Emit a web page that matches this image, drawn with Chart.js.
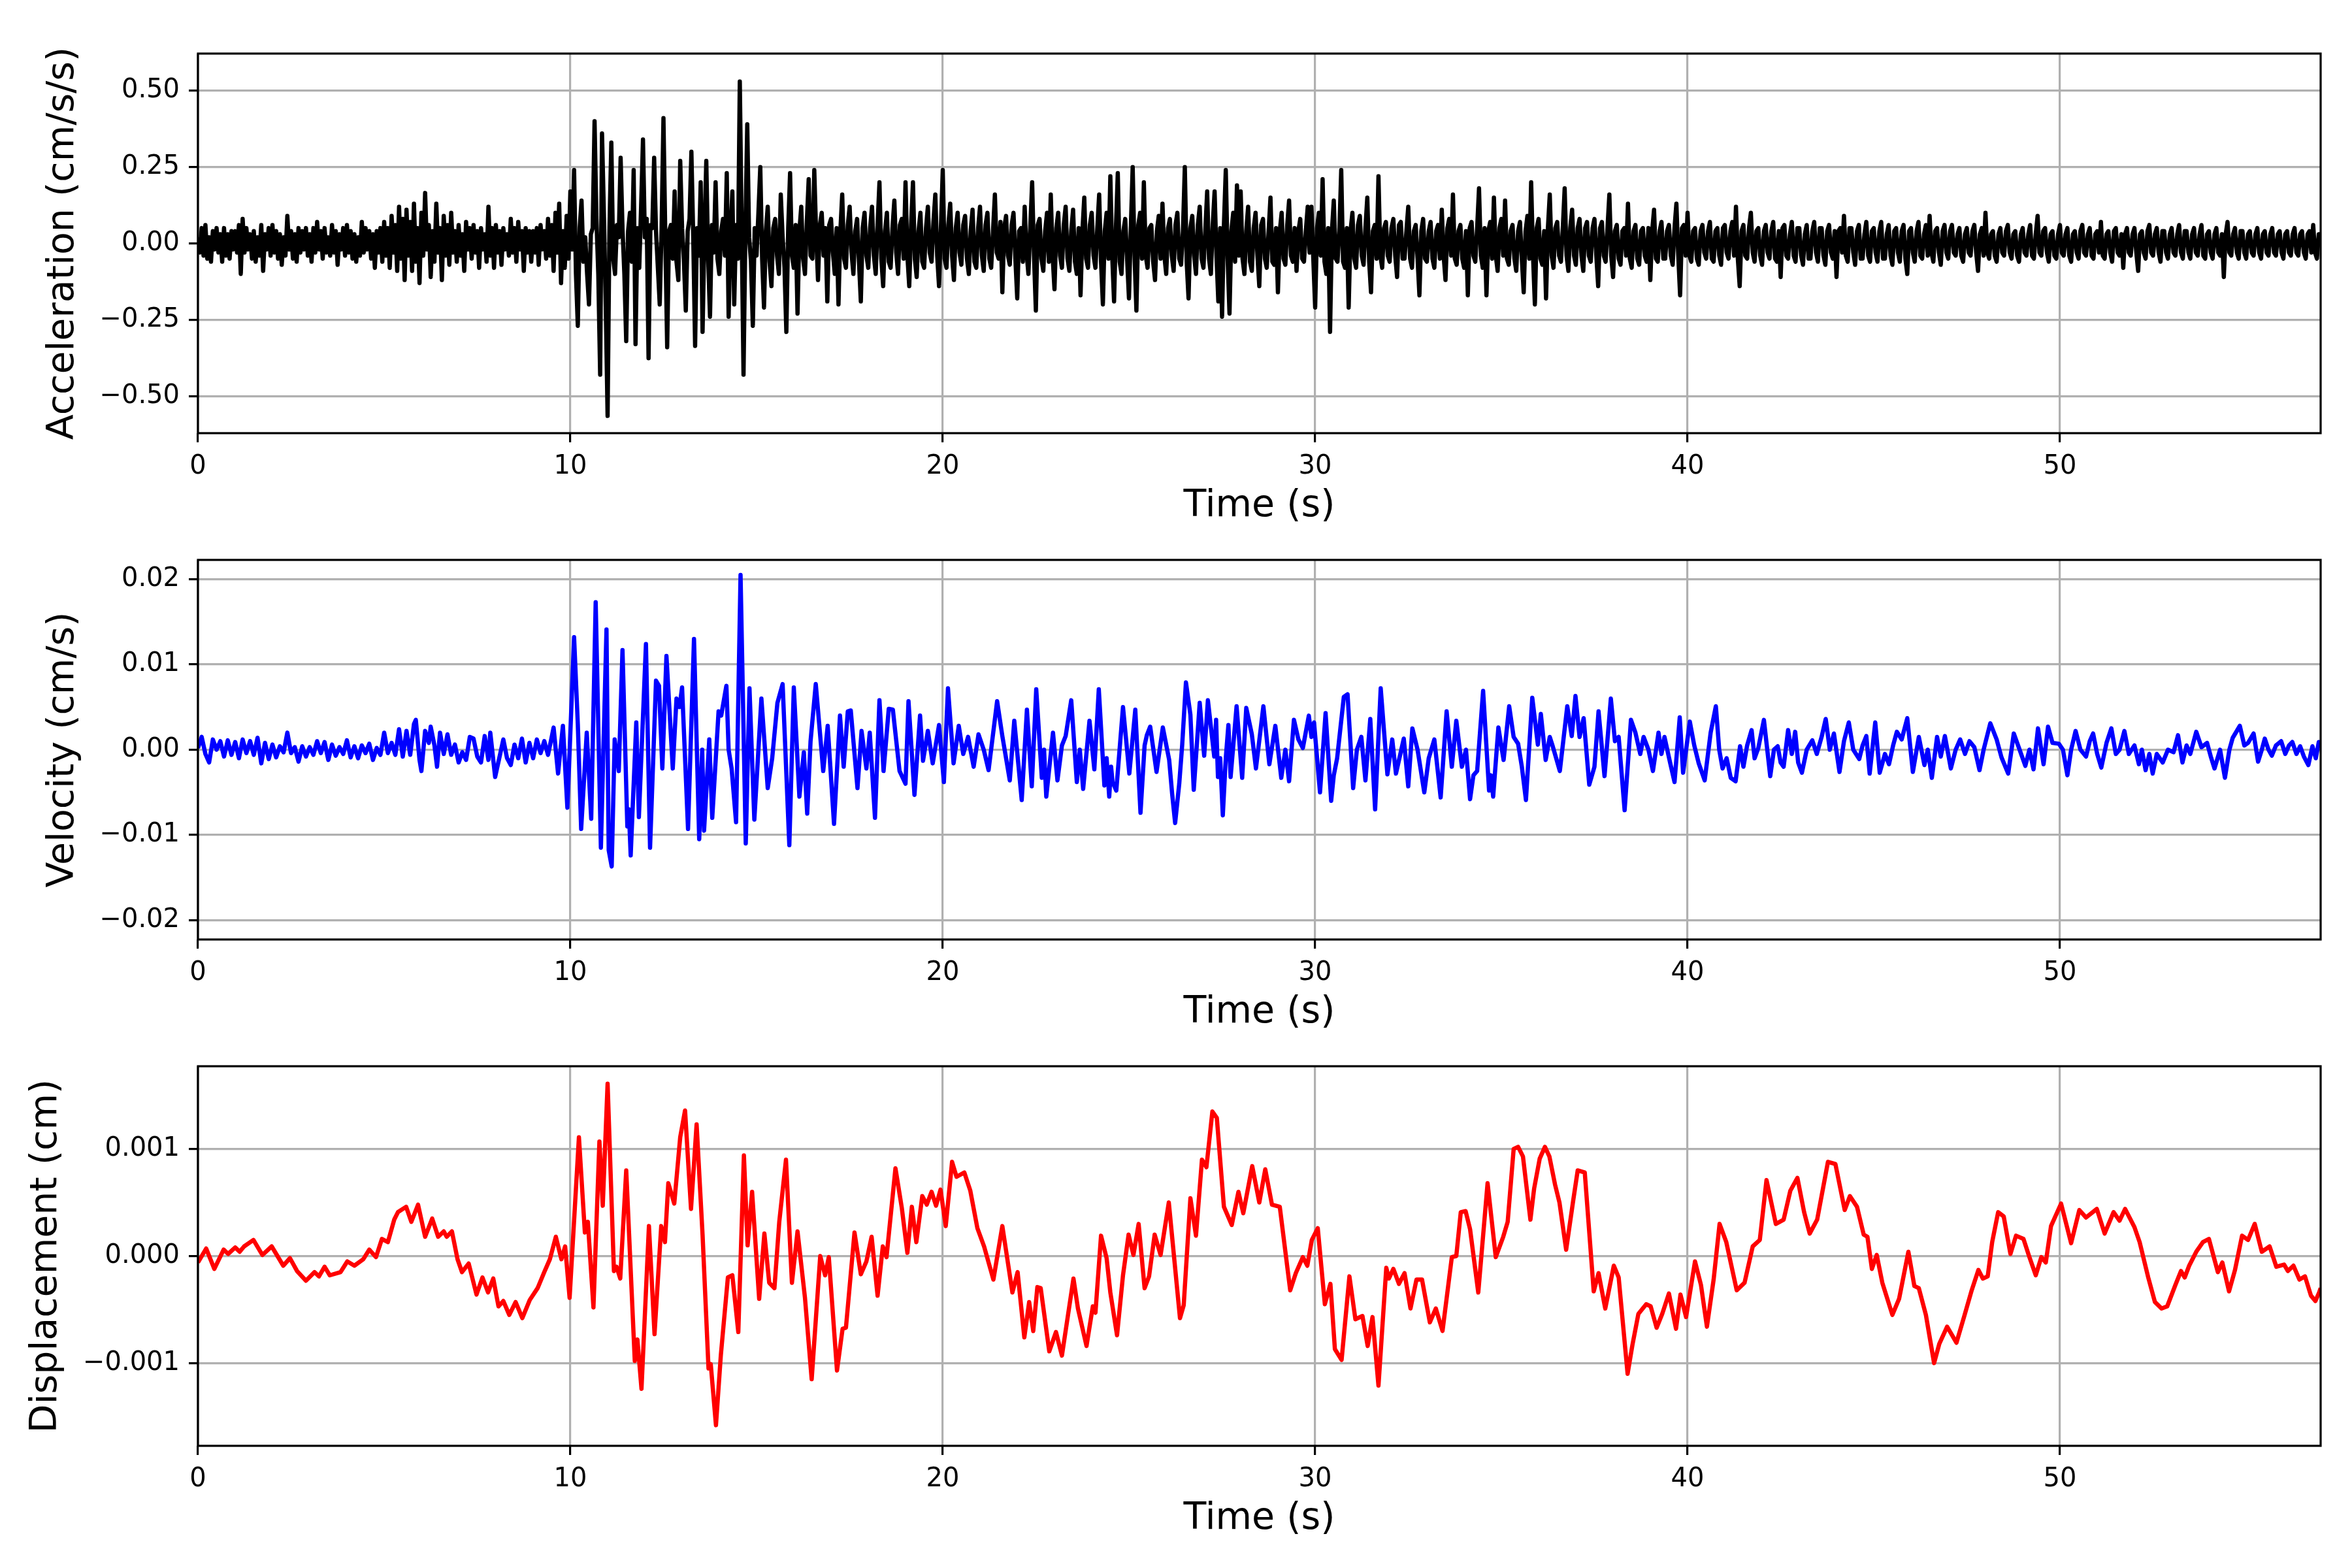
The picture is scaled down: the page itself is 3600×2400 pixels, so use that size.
<!DOCTYPE html>
<html>
<head>
<meta charset="utf-8">
<title>Acceleration, velocity and displacement</title>
<script src="https://cdn.jsdelivr.net/npm/chart.js@4.4.1/dist/chart.umd.min.js"></script>
<style>
    html, body { margin: 0; padding: 0; background: #fff; }
    #page { position: relative; width: 3600px; height: 2400px; overflow: hidden; }
    .panel { position: absolute; left: 0; width: 3600px; height: 900px; }
</style>
</head>
<body>
<div id="page">
    <div class="panel" style="top:0px"><canvas id="accChart" width="3600" height="900"></canvas></div>
    <div class="panel" style="top:775px"><canvas id="velChart" width="3600" height="900"></canvas></div>
    <div class="panel" style="top:1550px"><canvas id="dispChart" width="3600" height="900"></canvas></div>
</div>
<script>
// axes
const timeTicks = [0, 10, 20, 30, 40, 50];
const timeMax = 57.0;
const accelTicks = [-0.5, -0.25, 0, 0.25, 0.5];
const velTicks = [-0.02, -0.01, 0, 0.01, 0.02];
const dispTicks = [-0.001, 0, 0.001];

// acceleration (cm/s/s), one value every 0.05 s from t = 0 (one line per second)
const accelStep = 0.05;
const accelValues = [
    0.02,-0.03,0.05,-0.04,0.06,-0.05,0.02,-0.06,0.04,-0.02,0.05,-0.03,0.03,-0.06,0.05,-0.04,0.03,-0.05,0.04,-0.02,
    0.04,-0.03,0.06,-0.10,0.08,-0.03,0.05,-0.02,0.03,-0.05,0.04,-0.06,0.02,-0.04,0.06,-0.09,0.03,-0.02,0.05,-0.04,
    0.06,-0.03,0.04,-0.05,0.03,-0.07,0.02,-0.04,0.09,-0.02,0.04,-0.05,0.03,-0.06,0.05,-0.03,0.04,-0.02,0.05,-0.04,
    0.03,-0.06,0.05,-0.03,0.07,-0.02,0.04,-0.05,0.05,-0.03,0.02,-0.04,0.06,-0.03,0.04,-0.07,0.03,-0.02,0.05,-0.04,
    0.06,-0.03,0.04,-0.05,0.03,-0.06,0.02,-0.04,0.07,-0.03,0.05,-0.02,0.04,-0.05,0.03,-0.08,0.04,-0.03,0.05,-0.06,
    0.07,-0.04,0.05,-0.08,0.09,-0.03,0.06,-0.09,0.12,-0.05,0.08,-0.12,0.11,-0.04,0.07,-0.09,0.13,-0.06,0.05,-0.13,
    0.10,-0.04,0.165,-0.02,0.06,-0.11,0.04,-0.06,0.13,-0.03,0.05,-0.12,0.09,-0.04,0.06,-0.07,0.10,-0.03,0.04,-0.06,
    0.06,-0.04,0.03,-0.09,0.07,-0.02,0.05,-0.05,0.06,-0.03,0.04,-0.08,0.05,-0.02,0.03,-0.06,0.12,-0.04,0.05,-0.08,
    0.06,-0.03,0.04,-0.07,0.05,-0.02,0.03,-0.04,0.08,-0.03,0.05,-0.06,0.07,-0.02,0.04,-0.09,0.05,-0.03,0.04,-0.06,
    0.04,-0.03,0.05,-0.07,0.06,-0.02,0.04,-0.05,0.08,-0.04,0.06,-0.09,0.10,-0.03,0.13,-0.13,0.04,-0.08,0.09,-0.05,
    0.17,-0.02,0.24,-0.10,-0.27,0.05,0.14,-0.06,0.02,-0.10,-0.20,0.03,0.05,0.40,0.08,-0.10,-0.43,0.36,0.10,-0.20,
    -0.565,0.05,0.33,-0.05,-0.10,0.06,0.02,0.28,0.05,-0.10,-0.32,0.04,0.10,-0.06,0.24,-0.33,0.05,-0.08,0.12,0.34,
    0.02,0.08,-0.376,0.06,0.05,0.28,0.04,-0.08,-0.20,0.05,0.41,0.02,-0.34,0.04,0.06,-0.05,0.17,-0.06,-0.12,0.27,
    0.05,-0.06,-0.22,0.04,0.08,0.30,0.02,-0.336,0.05,-0.04,0.20,-0.29,0.03,0.27,-0.05,-0.24,0.06,-0.03,0.20,-0.05,
    -0.10,0.04,0.08,-0.04,0.23,-0.24,0.03,0.17,-0.20,0.06,-0.05,0.53,0.05,-0.43,0.04,0.39,0.02,-0.06,-0.27,0.05,
    -0.04,0.10,0.25,-0.05,-0.21,0.04,0.12,-0.06,-0.14,0.05,0.08,-0.04,-0.10,0.16,0.02,-0.08,-0.29,0.05,0.23,-0.04,
    -0.08,0.06,-0.23,0.04,0.12,-0.05,-0.10,0.07,0.21,-0.04,-0.05,0.24,0.03,-0.12,0.06,0.10,-0.04,0.05,-0.19,0.06,
    0.08,-0.03,-0.10,0.05,-0.20,0.04,0.16,-0.05,-0.08,0.06,0.12,-0.03,-0.10,0.04,0.08,-0.06,-0.19,0.05,0.10,-0.04,
    -0.08,0.05,0.12,-0.04,-0.10,0.06,0.20,-0.05,-0.14,0.04,0.10,-0.06,-0.08,0.05,0.14,-0.03,-0.10,0.06,0.08,-0.05,
    0.20,-0.04,-0.14,0.06,0.20,-0.05,-0.11,0.04,0.10,-0.06,-0.08,0.05,0.12,-0.03,-0.06,0.07,0.16,-0.04,-0.14,0.05,
    0.24,-0.05,-0.08,0.06,0.13,-0.04,-0.12,0.05,0.10,-0.03,-0.07,0.06,0.09,-0.05,-0.10,0.04,0.11,-0.06,-0.08,0.05,
    0.12,-0.04,-0.09,0.06,0.10,-0.05,-0.08,0.04,0.16,-0.03,-0.05,0.07,-0.16,0.05,0.09,-0.04,-0.07,0.06,0.10,-0.05,
    -0.18,0.04,0.05,-0.06,0.12,-0.03,-0.10,0.05,0.20,-0.04,-0.22,0.06,0.08,-0.05,-0.09,0.04,0.10,-0.06,0.16,-0.04,
    -0.15,0.05,0.10,-0.04,-0.08,0.06,0.12,-0.05,-0.09,0.04,0.11,-0.06,-0.10,0.05,-0.17,0.04,0.15,-0.05,-0.08,0.06,
    0.10,-0.04,-0.08,0.05,0.16,-0.06,-0.20,0.04,0.10,-0.05,0.22,-0.04,-0.19,0.05,0.23,-0.06,-0.10,0.04,0.08,-0.05,
    -0.18,0.05,0.25,-0.04,-0.22,0.06,0.10,-0.05,0.20,-0.04,-0.08,0.05,0.06,-0.06,-0.12,0.04,0.09,-0.05,0.13,-0.04,
    -0.10,0.05,0.08,-0.04,-0.09,0.06,0.10,-0.05,-0.07,0.04,0.25,-0.06,-0.18,0.05,0.09,-0.04,-0.10,0.06,0.12,-0.05,
    -0.08,0.04,0.17,-0.05,-0.10,0.06,0.17,-0.04,-0.19,0.05,-0.24,0.06,0.24,-0.05,-0.23,0.04,0.10,-0.06,0.19,-0.04,
    0.17,-0.05,-0.10,0.04,0.12,-0.06,-0.09,0.05,0.10,-0.04,-0.14,0.06,0.08,-0.05,-0.08,0.04,0.15,-0.06,-0.07,0.05,
    -0.16,0.04,0.10,-0.05,-0.07,0.06,0.14,-0.04,-0.06,0.05,-0.09,0.04,0.08,-0.05,-0.06,0.04,0.12,-0.03,0.12,-0.05,
    -0.21,0.05,0.10,-0.04,0.21,-0.06,-0.10,0.05,-0.29,0.04,0.14,-0.05,-0.06,0.04,0.24,-0.06,-0.08,0.05,-0.21,0.04,
    0.10,-0.05,-0.08,0.06,0.09,-0.04,-0.07,0.05,0.15,-0.06,-0.16,0.04,0.06,-0.05,0.22,-0.04,-0.08,0.05,0.07,-0.04,
    -0.06,0.05,0.08,-0.04,-0.11,0.06,0.07,-0.05,-0.05,0.04,0.12,-0.05,-0.08,0.04,0.06,-0.05,-0.17,0.04,0.08,-0.05,
    -0.06,0.04,0.07,-0.05,-0.08,0.04,0.06,-0.05,0.11,-0.04,-0.12,0.05,0.08,-0.04,0.16,-0.05,-0.07,0.04,0.06,-0.05,
    -0.08,0.04,-0.17,0.05,0.07,-0.04,-0.06,0.05,0.18,-0.04,-0.08,0.05,-0.17,0.04,0.07,-0.05,0.15,-0.04,-0.09,0.05,
    0.08,-0.04,0.14,-0.05,-0.07,0.04,0.06,-0.05,-0.09,0.04,0.07,-0.05,-0.16,0.04,0.09,-0.05,0.20,-0.04,-0.20,0.05,
    0.08,-0.05,-0.07,0.04,-0.18,0.05,0.16,-0.04,-0.08,0.05,0.07,-0.04,-0.06,0.05,0.18,-0.04,-0.09,0.05,0.11,-0.04,
    -0.07,0.05,0.08,-0.04,-0.09,0.05,0.07,-0.04,-0.06,0.05,0.08,-0.04,-0.14,0.05,0.07,-0.04,-0.06,0.05,0.16,-0.04,
    -0.11,0.04,0.06,-0.05,-0.07,0.04,0.05,-0.04,0.13,-0.05,-0.08,0.04,0.06,-0.05,-0.07,0.04,0.05,-0.04,-0.06,0.05,
    -0.12,0.04,0.11,-0.05,-0.06,0.04,0.07,-0.05,-0.05,0.04,0.06,-0.04,-0.07,0.05,0.13,-0.04,-0.17,0.05,0.06,-0.04,
    0.10,-0.04,-0.06,0.04,0.05,-0.05,-0.07,0.04,0.06,-0.03,-0.05,0.04,0.07,-0.05,-0.06,0.04,0.05,-0.04,-0.07,0.05,
    0.06,-0.03,-0.05,0.04,0.07,-0.04,0.12,-0.05,-0.14,0.04,0.06,-0.04,-0.05,0.05,0.10,-0.03,-0.06,0.04,0.05,-0.04,
    -0.07,0.04,0.06,-0.03,-0.05,0.04,0.07,-0.05,-0.06,0.04,-0.11,0.05,0.06,-0.04,-0.05,0.03,0.07,-0.04,-0.06,0.05,
    0.05,-0.04,-0.07,0.03,0.06,-0.05,-0.05,0.04,0.07,-0.03,-0.06,0.05,0.05,-0.04,-0.07,0.04,0.06,-0.03,-0.05,0.04,
    -0.11,0.04,0.05,-0.03,0.09,-0.04,-0.06,0.05,0.05,-0.03,-0.07,0.04,0.06,-0.05,-0.05,0.03,0.07,-0.04,-0.06,0.04,
    0.05,-0.03,-0.06,0.04,0.07,-0.05,-0.05,0.03,0.06,-0.04,-0.07,0.04,0.05,-0.03,-0.06,0.04,0.06,-0.05,-0.10,0.04,
    0.05,-0.03,-0.06,0.04,0.07,-0.04,-0.05,0.03,0.06,-0.04,0.09,-0.03,-0.06,0.04,0.05,-0.03,-0.07,0.04,0.06,-0.03,
    -0.05,0.04,0.06,-0.03,-0.04,0.03,0.05,-0.04,-0.06,0.03,0.05,-0.03,-0.04,0.04,0.06,-0.03,-0.09,0.03,0.05,-0.04,
    0.10,-0.03,-0.05,0.03,0.04,-0.04,-0.06,0.03,0.05,-0.03,-0.04,0.04,0.06,-0.03,-0.05,0.03,0.04,-0.04,-0.06,0.03,
    0.05,-0.03,-0.04,0.03,0.06,-0.04,-0.05,0.03,0.09,-0.03,-0.04,0.04,0.05,-0.03,-0.06,0.03,0.04,-0.04,-0.05,0.03,
    0.06,-0.03,-0.04,0.03,0.05,-0.04,-0.06,0.03,0.04,-0.03,-0.05,0.04,0.06,-0.03,-0.04,0.03,0.05,-0.04,-0.05,0.03,
    0.04,-0.03,0.07,-0.04,-0.05,0.03,0.04,-0.03,-0.06,0.04,0.05,-0.03,-0.04,0.03,-0.08,0.03,0.05,-0.03,-0.04,0.03,
    0.05,-0.03,-0.09,0.03,0.04,-0.03,-0.05,0.04,0.06,-0.03,-0.04,0.03,0.05,-0.03,-0.06,0.04,0.04,-0.03,-0.05,0.03,
    0.05,-0.03,-0.04,0.03,0.06,-0.03,-0.05,0.04,0.04,-0.03,-0.05,0.03,0.05,-0.03,-0.04,0.03,0.06,-0.04,-0.05,0.03,
    0.04,-0.03,-0.05,0.03,0.05,-0.03,-0.04,0.03,-0.11,0.03,0.07,-0.03,-0.04,0.03,0.05,-0.03,-0.05,0.04,0.04,-0.03,
    -0.05,0.03,0.04,-0.03,-0.04,0.03,0.05,-0.03,-0.05,0.03,0.04,-0.03,-0.04,0.03,0.05,-0.03,-0.04,0.03,0.04,-0.03,
    -0.05,0.03,0.04,-0.03,-0.04,0.03,0.05,-0.03,-0.04,0.03,0.04,-0.03,-0.05,0.03,0.04,-0.03,0.06,-0.03,-0.05,0.03,
    0.03
];

// velocity (cm/s), [time s, value]
const velPoints = [
    [0.0,0.0002],[0.1,0.0015],[0.2,-0.0005],[0.3,-0.0015],[0.4,0.0012],[0.5,0.0],[0.6,0.0010],[0.7,-0.0008],[0.8,0.0011],[0.9,-0.0006],
    [1.0,0.0009],[1.1,-0.0010],[1.2,0.0012],[1.3,-0.0004],[1.4,0.0010],[1.5,-0.0006],[1.6,0.0014],[1.7,-0.0016],[1.8,0.0008],[1.9,-0.0011],
    [2.0,0.0006],[2.1,-0.0009],[2.2,0.0004],[2.3,-0.0003],[2.4,0.0020],[2.5,-0.0004],[2.6,0.0003],[2.7,-0.0014],[2.8,0.0004],[2.9,-0.0008],
    [3.0,0.0003],[3.1,-0.0006],[3.2,0.0010],[3.3,-0.0004],[3.4,0.0009],[3.5,-0.0012],[3.6,0.0006],[3.7,-0.0007],[3.8,0.0003],[3.9,-0.0005],
    [4.0,0.0011],[4.1,-0.0009],[4.2,0.0004],[4.3,-0.0010],[4.4,0.0005],[4.5,-0.0004],[4.6,0.0007],[4.7,-0.0012],[4.8,0.0002],[4.9,-0.0006],
    [5.0,0.0020],[5.1,-0.0004],[5.2,0.0008],[5.3,-0.0006],[5.4,0.0024],[5.5,-0.0008],[5.6,0.0022],[5.7,-0.0006],[5.8,0.0030],[5.85,0.0035],
    [5.95,-0.0012],[6.0,-0.0025],[6.1,0.0022],[6.2,0.0008],[6.25,0.0027],[6.35,0.0005],[6.42,-0.0020],[6.5,0.0020],[6.6,-0.0005],[6.7,0.0018],
    [6.8,-0.0006],[6.9,0.0006],[7.0,-0.0015],[7.1,-0.0003],[7.2,-0.0012],[7.3,0.0015],[7.4,0.0013],[7.5,-0.0008],[7.6,-0.0015],[7.7,0.0016],
    [7.8,-0.0012],[7.85,0.0020],[7.98,-0.0032],[8.1,-0.0008],[8.2,0.0012],[8.3,-0.0010],[8.4,-0.0018],[8.5,0.0006],[8.6,-0.0010],[8.7,0.0013],
    [8.8,-0.0015],[8.9,0.0008],[9.0,-0.0010],[9.1,0.0012],[9.2,-0.0004],[9.3,0.0010],[9.4,-0.0006],[9.5,0.0015],[9.55,0.0026],[9.67,-0.0028],
    [9.8,0.0028],[9.92,-0.0068],[10.0,0.0020],[10.1,0.0132],[10.2,0.0030],[10.29,-0.0093],[10.44,0.0020],[10.56,-0.0081],[10.68,0.0173],[10.82,-0.0115],
    [10.97,0.0141],[11.03,-0.0118],[11.11,-0.0137],[11.19,0.0012],[11.3,-0.0025],[11.4,0.0117],[11.53,-0.0090],[11.57,-0.0070],[11.62,-0.0124],[11.77,0.0032],
    [11.84,-0.0079],[12.03,0.0124],[12.14,-0.0115],[12.3,0.0081],[12.38,0.0075],[12.47,-0.0022],[12.58,0.0110],[12.75,-0.0022],[12.85,0.0060],[12.93,0.0050],
    [13.0,0.0073],[13.16,-0.0093],[13.32,0.0130],[13.46,-0.0105],[13.54,0.0],[13.59,-0.0095],[13.73,0.0012],[13.81,-0.0080],[13.98,0.0045],[14.05,0.0040],
    [14.19,0.0075],[14.25,0.0],[14.33,-0.0022],[14.45,-0.0085],[14.57,0.0205],[14.71,-0.0110],[14.81,0.0072],[14.94,-0.0082],[15.13,0.0060],[15.3,-0.0045],
    [15.42,-0.0010],[15.56,0.0055],[15.7,0.0077],[15.88,-0.0112],[16.0,0.0073],[16.15,-0.0055],[16.27,-0.0003],[16.36,-0.0075],[16.45,0.0010],[16.59,0.0077],
    [16.79,-0.0025],[16.91,0.0028],[17.08,-0.0087],[17.24,0.0040],[17.34,-0.0020],[17.45,0.0045],[17.53,0.0046],[17.71,-0.0045],[17.82,0.0022],[17.95,-0.0022],
    [18.04,0.0020],[18.18,-0.0080],[18.3,0.0058],[18.41,-0.0025],[18.55,0.0048],[18.66,0.0047],[18.84,-0.0025],[19.0,-0.0040],[19.08,0.0057],[19.24,-0.0053],
    [19.39,0.0040],[19.47,-0.0013],[19.6,0.0022],[19.73,-0.0016],[19.9,0.0029],[20.03,-0.0038],[20.14,0.0072],[20.29,-0.0016],[20.43,0.0028],[20.55,-0.0005],
    [20.68,0.0015],[20.83,-0.0020],[20.96,0.0018],[21.1,0.0],[21.23,-0.0024],[21.46,0.0057],[21.6,0.0016],[21.8,-0.0036],[21.92,0.0034],[22.12,-0.0059],
    [22.26,0.0047],[22.39,-0.0043],[22.51,0.0071],[22.66,-0.0033],[22.72,0.0],[22.78,-0.0055],[22.96,0.0020],[23.08,-0.0036],[23.2,0.0005],[23.3,0.0016],
    [23.45,0.0058],[23.6,-0.0038],[23.68,0.0],[23.77,-0.0046],[23.94,0.0034],[24.07,-0.0023],[24.19,0.0071],[24.34,-0.0042],[24.4,-0.0010],[24.47,-0.0055],
    [24.52,-0.0020],[24.56,-0.0038],[24.66,-0.0048],[24.84,0.0050],[25.01,-0.0028],[25.17,0.0047],[25.31,-0.0074],[25.42,0.0005],[25.48,0.0017],[25.57,0.0027],
    [25.74,-0.0026],[25.91,0.0026],[26.08,-0.0012],[26.16,-0.0052],[26.24,-0.0086],[26.35,-0.0040],[26.43,0.0006],[26.53,0.0079],[26.65,0.0041],[26.74,-0.0047],
    [26.9,0.0055],[27.02,-0.0007],[27.12,0.0058],[27.29,-0.0008],[27.34,0.0035],[27.39,-0.0032],[27.45,-0.0010],[27.52,-0.0077],[27.6,-0.0010],[27.67,0.0029],
    [27.73,-0.0032],[27.89,0.0051],[28.04,-0.0033],[28.15,0.0049],[28.3,0.0018],[28.41,-0.0022],[28.61,0.0051],[28.77,-0.0017],[28.93,0.0028],[29.09,-0.0033],
    [29.2,0.0],[29.3,-0.0037],[29.43,0.0035],[29.55,0.0012],[29.67,0.0002],[29.83,0.0040],[29.9,0.0015],[29.97,0.0032],[30.13,-0.0050],[30.28,0.0043],
    [30.43,-0.0060],[30.5,-0.0030],[30.59,-0.0010],[30.77,0.0062],[30.87,0.0065],[31.02,-0.0045],[31.12,0.0],[31.24,0.0015],[31.35,-0.0036],[31.48,0.0036],
    [31.61,-0.0070],[31.76,0.0072],[31.94,-0.0029],[32.07,0.0012],[32.17,-0.0028],[32.38,0.0013],[32.5,-0.0043],[32.61,0.0025],[32.75,0.0],[32.93,-0.0050],
    [33.05,-0.0010],[33.2,0.0012],[33.37,-0.0056],[33.53,0.0045],[33.67,-0.0020],[33.79,0.0034],[33.94,-0.0020],[34.05,0.0],[34.16,-0.0058],[34.25,-0.0030],
    [34.35,-0.0025],[34.51,0.0069],[34.67,-0.0048],[34.72,-0.0030],[34.78,-0.0055],[34.92,0.0026],[35.06,-0.0012],[35.21,0.0051],[35.33,0.0015],[35.45,0.0007],
    [35.55,-0.0020],[35.66,-0.0059],[35.83,0.0061],[35.98,0.0006],[36.06,0.0042],[36.19,-0.0012],[36.3,0.0015],[36.38,0.0004],[36.57,-0.0025],[36.77,0.0051],
    [36.89,0.0016],[36.99,0.0063],[37.1,0.0015],[37.21,0.0037],[37.36,-0.0041],[37.5,-0.0020],[37.61,0.0045],[37.77,-0.0031],[37.94,0.0060],[38.05,0.0010],
    [38.15,0.0015],[38.31,-0.0071],[38.48,0.0035],[38.6,0.0020],[38.73,-0.0005],[38.82,0.0015],[38.95,0.0],[39.07,-0.0025],[39.22,0.0020],[39.3,-0.0005],
    [39.38,0.0015],[39.53,-0.0015],[39.65,-0.0038],[39.79,0.0038],[39.88,-0.0027],[40.06,0.0033],[40.18,0.0005],[40.3,-0.0016],[40.46,-0.0036],[40.62,0.0020],
    [40.76,0.0051],[40.85,0.0],[40.94,-0.0022],[41.05,-0.0010],[41.16,-0.0033],[41.29,-0.0037],[41.41,0.0004],[41.5,-0.0020],[41.6,0.0005],[41.72,0.0023],
    [41.8,-0.0010],[41.9,0.0002],[42.05,0.0035],[42.22,-0.0031],[42.32,0.0],[42.42,0.0004],[42.5,-0.0015],[42.58,-0.0020],[42.7,0.0023],[42.8,-0.0005],
    [42.89,0.0021],[42.97,-0.0015],[43.07,-0.0027],[43.2,0.0],[43.35,0.0011],[43.47,-0.0005],[43.6,0.0015],[43.71,0.0036],[43.82,0.0],[43.93,0.0019],
    [44.08,-0.0026],[44.2,0.0010],[44.33,0.0032],[44.45,0.0],[44.61,-0.0011],[44.7,0.0005],[44.8,0.0016],[44.89,-0.0028],[45.04,0.0032],[45.16,-0.0027],
    [45.3,-0.0005],[45.41,-0.0017],[45.52,0.0005],[45.62,0.0021],[45.75,0.0012],[45.9,0.0037],[46.05,-0.0026],[46.21,0.0015],[46.36,-0.0018],[46.45,0.0],
    [46.56,-0.0033],[46.7,0.0015],[46.8,-0.0008],[46.91,0.0016],[47.07,-0.0022],[47.2,0.0],[47.32,0.0012],[47.45,-0.0005],[47.57,0.0010],[47.7,0.0003],
    [47.84,-0.0024],[47.95,0.0],[48.13,0.0031],[48.3,0.0012],[48.43,-0.0009],[48.61,-0.0028],[48.76,0.0019],[48.9,0.0002],[49.07,-0.0019],[49.18,0.0],
    [49.29,-0.0023],[49.41,0.0025],[49.56,-0.0017],[49.68,0.0027],[49.8,0.0008],[49.97,0.0007],[50.08,0.0],[50.2,-0.0030],[50.3,0.0],[50.42,0.0022],
    [50.55,0.0],[50.7,-0.0008],[50.8,0.0010],[50.89,0.0019],[51.0,-0.0005],[51.11,-0.0021],[51.25,0.0008],[51.38,0.0025],[51.5,-0.0005],[51.6,0.0],
    [51.73,0.0022],[51.85,-0.0005],[52.0,0.0005],[52.12,-0.0017],[52.2,0.0],[52.3,-0.0024],[52.4,-0.0005],[52.49,-0.0028],[52.6,-0.0005],[52.76,-0.0015],
    [52.9,0.0],[53.05,-0.0003],[53.17,0.0017],[53.29,-0.0015],[53.4,0.0005],[53.5,-0.0005],[53.66,0.0021],[53.8,0.0003],[53.95,0.0008],[54.05,-0.0008],
    [54.15,-0.0022],[54.3,0.0],[54.43,-0.0033],[54.55,0.0],[54.64,0.0014],[54.83,0.0028],[54.95,0.0005],[55.05,0.0008],[55.2,0.0019],[55.32,-0.0014],
    [55.42,0.0],[55.5,0.0013],[55.6,0.0],[55.69,-0.0007],[55.8,0.0005],[55.94,0.0010],[56.05,-0.0005],[56.15,0.0005],[56.24,0.0009],[56.35,-0.0005],
    [56.45,0.0004],[56.55,-0.0008],[56.67,-0.0018],[56.78,0.0004],[56.87,-0.0010],[56.95,0.0009],[57.0,0.0006]
];

// displacement (cm), [time s, value]
const dispPoints = [
    [0,-0.00006],[0.22,0.00007],[0.44,-0.00012],[0.69,0.00006],[0.81,0.00002],[1.0,0.00008],[1.12,0.00004],[1.24,0.00009],[1.49,0.00015],[1.73,0.00001],
    [1.98,0.00009],[2.29,-0.00009],[2.47,-0.00002],[2.66,-0.00014],[2.9,-0.00023],[3.13,-0.00015],[3.25,-0.00019],[3.4,-0.0001],[3.54,-0.00018],[3.83,-0.00015],
    [4.01,-0.00005],[4.2,-0.00009],[4.44,-0.00003],[4.6,0.00006],[4.78,-0.00001],[4.94,0.00016],[5.1,0.00013],[5.27,0.00034],[5.37,0.00041],[5.59,0.00046],
    [5.73,0.00032],[5.91,0.00048],[6.1,0.00018],[6.29,0.00035],[6.45,0.00018],[6.6,0.00023],[6.68,0.00018],[6.82,0.00023],[6.97,-0.00003],[7.09,-0.00015],
    [7.27,-0.00007],[7.48,-0.00036],[7.64,-0.0002],[7.79,-0.00034],[7.93,-0.00021],[8.07,-0.00047],[8.2,-0.00042],[8.36,-0.00055],[8.53,-0.00043],[8.71,-0.00058],
    [8.91,-0.00041],[9.12,-0.0003],[9.3,-0.00015],[9.45,-0.00003],[9.61,0.00018],[9.76,-0.00003],[9.86,0.00009],[9.98,-0.00039],[10.23,0.00111],[10.39,0.00022],
    [10.47,0.00032],[10.62,-0.00048],[10.78,0.00107],[10.87,0.00047],[11.0,0.00161],[11.17,-0.00014],[11.24,-0.0001],[11.34,-0.00021],[11.5,0.0008],[11.73,-0.00098],
    [11.8,-0.00078],[11.91,-0.00124],[12.11,0.00028],[12.26,-0.00073],[12.44,0.00028],[12.54,0.00013],[12.63,0.00068],[12.79,0.00049],[12.95,0.00111],[13.08,0.00136],
    [13.24,0.00044],[13.39,0.00123],[13.55,0.0002],[13.71,-0.00105],[13.77,-0.00101],[13.91,-0.00158],[14.04,-0.00093],[14.23,-0.0002],[14.35,-0.00018],[14.51,-0.00071],
    [14.66,0.00094],[14.76,0.0001],[14.88,0.0006],[15.07,-0.0004],[15.21,0.00021],[15.34,-0.00025],[15.48,-0.0003],[15.61,0.00032],[15.79,0.0009],[15.95,-0.00025],
    [16.1,0.00023],[16.3,-0.00039],[16.48,-0.00115],[16.71,0.0],[16.84,-0.00018],[16.94,-0.00001],[17.16,-0.00107],[17.31,-0.00068],[17.4,-0.00067],[17.63,0.00022],
    [17.8,-0.00017],[17.95,-0.00005],[18.09,0.00018],[18.25,-0.00037],[18.39,0.00009],[18.49,-0.00001],[18.73,0.00082],[18.9,0.00045],[19.05,0.00003],[19.17,0.00046],
    [19.29,0.00013],[19.45,0.00056],[19.57,0.00048],[19.7,0.0006],[19.82,0.00047],[19.94,0.00062],[20.08,0.00028],[20.25,0.00088],[20.37,0.00074],[20.58,0.00078],
    [20.74,0.00061],[20.93,0.00026],[21.11,0.00009],[21.36,-0.00022],[21.6,0.00028],[21.87,-0.00034],[22.01,-0.00015],[22.19,-0.00076],[22.32,-0.00043],[22.43,-0.0007],
    [22.54,-0.00029],[22.63,-0.0003],[22.86,-0.00089],[23.04,-0.00071],[23.2,-0.00093],[23.51,-0.00021],[23.63,-0.00049],[23.86,-0.00084],[24.03,-0.00047],[24.1,-0.00053],
    [24.25,0.00019],[24.4,-0.00002],[24.5,-0.00034],[24.68,-0.00074],[24.84,-0.00018],[24.99,0.0002],[25.12,0.00001],[25.26,0.0003],[25.42,-0.0003],[25.54,-0.00019],
    [25.69,0.0002],[25.85,0.00001],[26.07,0.0005],[26.37,-0.00058],[26.47,-0.00046],[26.65,0.00054],[26.8,0.00019],[26.96,0.0009],[27.08,0.00083],[27.24,0.00135],
    [27.36,0.00129],[27.55,0.00046],[27.76,0.00029],[27.94,0.0006],[28.07,0.0004],[28.31,0.00084],[28.5,0.0005],[28.66,0.00081],[28.84,0.00048],[29.05,0.00046],
    [29.33,-0.00032],[29.48,-0.00016],[29.67,-0.00001],[29.79,-0.00009],[29.91,0.00015],[30.07,0.00026],[30.26,-0.00045],[30.41,-0.00026],[30.53,-0.00087],[30.71,-0.00097],
    [30.92,-0.00019],[31.08,-0.00059],[31.27,-0.00056],[31.41,-0.00084],[31.54,-0.00057],[31.7,-0.00121],[31.91,-0.00011],[31.98,-0.00021],[32.1,-0.00012],[32.25,-0.00026],
    [32.4,-0.00016],[32.56,-0.00049],[32.72,-0.00022],[32.87,-0.00022],[33.08,-0.00062],[33.24,-0.00049],[33.42,-0.0007],[33.67,-0.00001],[33.79,0.0],[33.91,0.00041],
    [34.04,0.00042],[34.16,0.00025],[34.38,-0.00034],[34.63,0.00068],[34.85,-0.00001],[35.05,0.00018],[35.17,0.00032],[35.33,0.001],[35.45,0.00102],[35.58,0.00093],
    [35.78,0.00034],[35.88,0.00063],[36.03,0.00091],[36.17,0.00102],[36.29,0.00093],[36.44,0.00067],[36.56,0.0005],[36.74,0.00006],[36.93,0.00052],[37.05,0.0008],
    [37.24,0.00078],[37.48,-0.00033],[37.61,-0.00016],[37.79,-0.00049],[38.02,-0.00009],[38.15,-0.0002],[38.39,-0.0011],[38.52,-0.00083],[38.68,-0.00054],[38.89,-0.00045],
    [39.01,-0.00047],[39.17,-0.00067],[39.32,-0.00054],[39.5,-0.00035],[39.69,-0.00068],[39.81,-0.00036],[39.96,-0.00057],[40.2,-0.00005],[40.36,-0.00027],[40.52,-0.00066],
    [40.7,-0.00022],[40.86,0.0003],[41.04,0.00013],[41.32,-0.00032],[41.53,-0.00025],[41.75,0.00009],[41.94,0.00015],[42.12,0.00071],[42.37,0.0003],[42.58,0.00034],
    [42.76,0.00061],[42.95,0.00073],[43.13,0.00041],[43.28,0.00021],[43.48,0.00034],[43.77,0.00088],[43.97,0.00086],[44.22,0.00043],[44.36,0.00056],[44.55,0.00046],
    [44.73,0.0002],[44.83,0.00018],[44.95,-0.00012],[45.08,0.00001],[45.23,-0.00025],[45.5,-0.00055],[45.68,-0.0004],[45.93,0.00004],[46.09,-0.00028],[46.21,-0.0003],
    [46.4,-0.00055],[46.62,-0.001],[46.76,-0.00082],[46.97,-0.00066],[47.22,-0.00081],[47.44,-0.00055],[47.63,-0.00032],[47.81,-0.00013],[47.93,-0.00021],[48.06,-0.00019],
    [48.18,0.00013],[48.34,0.00041],[48.49,0.00037],[48.67,0.00002],[48.82,0.00019],[49.02,0.00016],[49.17,0.0],[49.35,-0.00018],[49.5,-0.00001],[49.62,-0.00006],
    [49.76,0.00028],[50.03,0.00049],[50.3,0.00012],[50.52,0.00043],[50.7,0.00036],[50.99,0.00044],[51.2,0.00021],[51.44,0.00041],[51.6,0.00033],[51.75,0.00044],
    [52.0,0.00027],[52.14,0.00013],[52.37,-0.0002],[52.55,-0.00043],[52.73,-0.00049],[52.88,-0.00047],[53.1,-0.00027],[53.25,-0.00014],[53.35,-0.0002],[53.47,-0.00009],
    [53.66,0.00004],[53.84,0.00013],[54.0,0.00016],[54.24,-0.00015],[54.36,-0.00006],[54.54,-0.00033],[54.7,-0.00013],[54.89,0.00019],[55.05,0.00015],[55.23,0.0003],
    [55.42,0.00004],[55.63,0.00009],[55.81,-0.0001],[56.02,-0.00008],[56.12,-0.00014],[56.27,-0.00009],[56.43,-0.00022],[56.58,-0.00019],[56.74,-0.00037],[56.86,-0.00042],
    [56.96,-0.00034],[57.0,-0.0003]
];

const fontFamily = "'DejaVu Sans', 'Liberation Sans', sans-serif";

// signed number with a real minus sign, like matplotlib
function formatTick(value, decimals) {
    const txt = Math.abs(value).toFixed(decimals);
    return value < 0 ? '\u2212' + txt : txt;
}

// full black box round the plot area
const framePlugin = {
    id: 'frame',
    afterDatasetsDraw(chart) {
        const { ctx, chartArea: a } = chart;
        ctx.save();
        ctx.strokeStyle = '#000';
        ctx.lineWidth = 3.2;
        ctx.strokeRect(a.left, a.top, a.right - a.left, a.bottom - a.top);
        ctx.restore();
    }
};

function makeChart(canvasId, points, color, yLimit, yTicks, decimals, yLabel, yTitlePad) {
    const ctx = document.getElementById(canvasId).getContext('2d');
    return new Chart(ctx, {
        type: 'line',
        data: {
            datasets: [{
                data: points.map(p => ({ x: p[0], y: p[1] })),
                borderColor: color,
                borderWidth: 6.5,
                borderJoinStyle: 'round',
                pointRadius: 0,
                fill: false,
                tension: 0
            }]
        },
        options: {
            responsive: false,
            animation: false,
            layout: { padding: { top: 82, right: 48, left: 0, bottom: 0 } },
            plugins: { legend: { display: false }, tooltip: { enabled: false } },
            scales: {
                x: {
                    type: 'linear',
                    min: 0,
                    max: timeMax,
                    afterBuildTicks: s => { s.ticks = timeTicks.map(v => ({ value: v })); },
                    afterFit: s => { s.height = 237; },
                    border: { display: false },
                    grid: { color: '#b0b0b0', lineWidth: 3.2, tickColor: '#000', tickWidth: 3.2, tickLength: 14 },
                    ticks: {
                        color: '#000', padding: 14, maxRotation: 0, autoSkip: false,
                        font: { family: fontFamily, size: 40 },
                        callback: v => String(v)
                    },
                    title: {
                        display: true, text: 'Time (s)', color: '#000',
                        font: { family: fontFamily, size: 57 },
                        padding: { top: 0, bottom: 91 }
                    }
                },
                y: {
                    type: 'linear',
                    min: -yLimit,
                    max: yLimit,
                    afterBuildTicks: s => { s.ticks = yTicks.map(v => ({ value: v })); },
                    afterFit: s => { s.width = 303; },
                    border: { display: false },
                    grid: { color: '#b0b0b0', lineWidth: 3.2, tickColor: '#000', tickWidth: 3.2, tickLength: 14 },
                    ticks: {
                        color: '#000', padding: 14, autoSkip: false,
                        font: { family: fontFamily, size: 40 },
                        callback: v => formatTick(v, decimals)
                    },
                    title: {
                        display: true, text: yLabel, color: '#000',
                        font: { family: fontFamily, size: 57 },
                        padding: { top: yTitlePad, bottom: 0 }
                    }
                }
            }
        },
        plugins: [framePlugin]
    });
}

const accelPoints = accelValues.map((v, i) => [Math.round(i * accelStep * 100) / 100, v]);

makeChart('accChart', accelPoints, '#000000', 0.6215, accelTicks, 2, 'Acceleration (cm/s/s)', 63);
makeChart('velChart', velPoints, '#0000ff', 0.02227, velTicks, 2, 'Velocity (cm/s)', 63);
makeChart('dispChart', dispPoints, '#ff0000', 0.001773, dispTicks, 3, 'Displacement (cm)', 37);
</script>
</body>
</html>
